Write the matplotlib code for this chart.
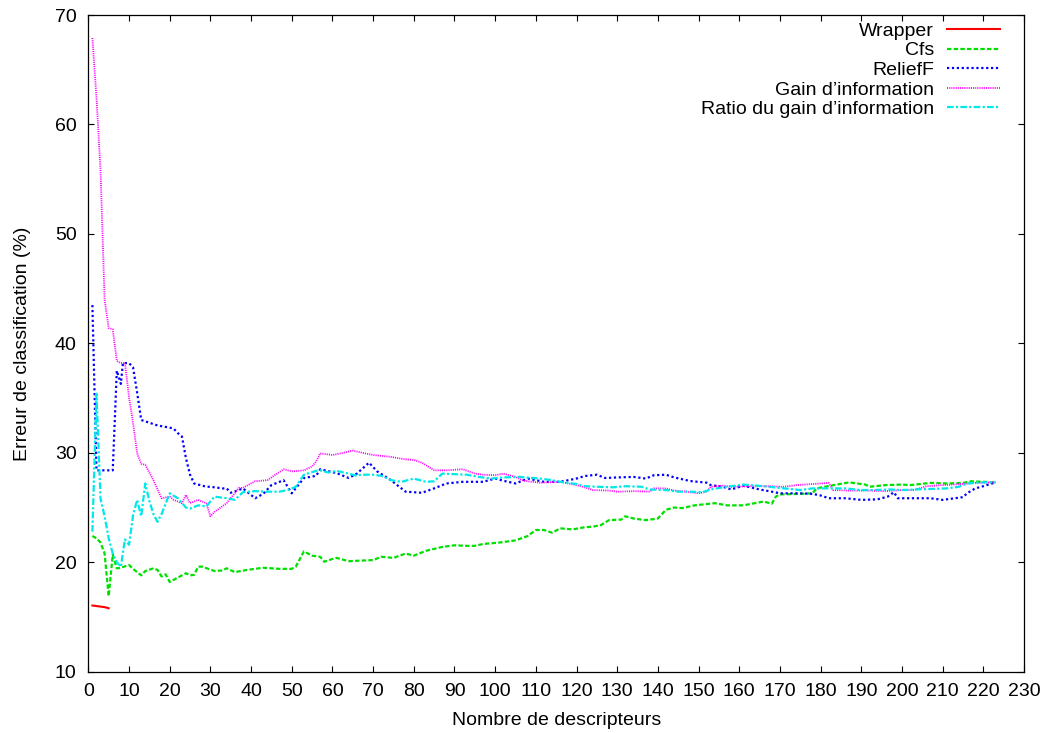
"""Classification error vs number of descriptors (gnuplot-like look)"""
import matplotlib
matplotlib.use("Agg")
import matplotlib.pyplot as plt

plt.rcParams['font.family'] = ['Liberation Sans', 'DejaVu Sans']
plt.rcParams['font.size'] = 14

# Wrapper
wrap_x = [1, 2, 3, 4, 5]
wrap_y = [16.05, 16.0, 15.95, 15.9, 15.8]

# Cfs
cfs_x = [1, 2, 3, 4, 5, 6, 7, 8, 10, 11, 13, 14, 16, 17, 18, 19, 20, 22, 24, 25,
         26, 27, 28, 31, 33, 34, 36, 39, 43, 47, 50, 51, 53, 55, 57, 58, 60, 61,
         64, 70, 72, 75, 78, 80, 83, 87, 90, 93, 95, 97, 101, 105, 108, 110, 112,
         114, 116, 119, 122, 124, 126, 128, 131, 132, 134, 137, 140, 142, 144,
         146, 149, 154, 157, 161, 166, 168, 169, 170, 175, 178, 179, 181, 184,
         187, 191, 192, 196, 200, 202, 207, 211, 215, 217, 223]
cfs_y = [22.4, 22.2, 21.8, 20.8, 16.9, 20.7, 19.45, 19.5, 19.75, 19.4, 18.8, 19.2,
         19.45, 19.3, 18.7, 18.9, 18.2, 18.6, 19.0, 18.8, 18.85, 19.6, 19.6, 19.2,
         19.25, 19.45, 19.1, 19.3, 19.5, 19.4, 19.4, 19.6, 21.0, 20.6, 20.5, 20.05,
         20.3, 20.4, 20.1, 20.2, 20.5, 20.4, 20.8, 20.6, 21.05, 21.4, 21.55, 21.5,
         21.5, 21.67, 21.8, 22.0, 22.4, 22.95, 22.95, 22.7, 23.1, 23.0, 23.2, 23.25,
         23.4, 23.85, 23.9, 24.2, 24.0, 23.85, 24.0, 24.8, 25.0, 24.95, 25.2, 25.4,
         25.2, 25.2, 25.55, 25.35, 26.0, 26.2, 26.25, 26.3, 26.75, 26.9, 27.1, 27.3,
         27.1, 26.9, 27.05, 27.1, 27.05, 27.25, 27.2, 27.25, 27.4, 27.3]

# ReliefF
rel_x = [1, 2, 3, 4, 5, 6, 7, 8, 8.5, 10, 11, 12, 13, 17, 20, 21, 22, 23, 24, 25,
         26, 28, 29, 30, 33, 34, 35, 37, 38, 41, 43, 45, 48, 50, 53, 56, 57, 61,
         64, 66, 69, 71, 74, 78, 82, 85, 88, 92, 97, 100, 102, 105, 108, 112, 116,
         120, 122, 125, 127, 130, 134, 137, 139, 142, 144, 148, 152, 153, 156, 158,
         161, 165, 168, 170, 175, 178, 180, 182, 186, 190, 194, 196.5, 198, 199,
         202, 207, 210, 215, 216, 218, 220, 223]
rel_y = [43.5, 28.4, 28.4, 28.4, 28.4, 28.4, 37.5, 36.3, 38.2, 38.2, 37.8, 35.5,
         33.0, 32.5, 32.3, 32.2, 31.8, 31.5, 29.5, 28.0, 27.2, 27.0, 26.9, 26.9,
         26.75, 26.75, 26.35, 26.6, 26.75, 25.85, 26.25, 27.05, 27.5, 26.3, 27.7,
         27.9, 28.5, 28.15, 27.7, 28.1, 29.1, 28.3, 27.6, 26.45, 26.35, 26.75, 27.2,
         27.35, 27.35, 27.65, 27.45, 27.2, 27.65, 27.35, 27.35, 27.65, 27.88, 28.0,
         27.7, 27.75, 27.8, 27.65, 27.95, 28.0, 27.75, 27.42, 27.27, 27.05, 26.9,
         26.65, 27.0, 26.65, 26.45, 26.3, 26.3, 26.25, 26.1, 25.85, 25.85, 25.7,
         25.75, 26.0, 26.4, 25.85, 25.85, 25.85, 25.7, 25.95, 26.3, 26.75, 26.95,
         27.3]

# Gain d'information
gain_x = [1, 2, 3, 4, 5, 6, 7, 8, 9, 10, 11, 12, 13, 14, 16, 18, 20, 21, 23, 24,
          25, 27, 29, 30, 31, 34, 36, 37, 38, 41, 44, 46, 48, 50, 53, 55, 56, 57,
          60, 62, 65, 68, 70, 74, 78, 80, 82, 85, 88, 92, 95, 97, 100, 102, 105,
          107, 111, 113, 116, 120, 122, 124, 128, 130, 134, 138, 139, 142, 144,
          147, 150, 152, 153, 156, 158, 163, 167, 171, 174, 178, 182, 183, 187,
          192, 196, 200, 203, 206, 210, 215, 218, 223]
gain_y = [67.9, 62.5, 55.8, 44.0, 41.4, 41.3, 38.4, 38.2, 38.2, 35.1, 32.7, 29.95,
          29.0, 28.9, 27.5, 25.85, 26.0, 25.7, 25.4, 26.15, 25.4, 25.7, 25.4, 24.2,
          24.6, 25.4, 26.3, 26.8, 26.8, 27.4, 27.5, 28.0, 28.5, 28.3, 28.4, 28.75,
          29.2, 29.95, 29.8, 29.95, 30.2, 29.95, 29.8, 29.65, 29.4, 29.35, 29.1,
          28.4, 28.4, 28.5, 28.1, 28.0, 27.95, 28.1, 27.8, 27.45, 27.27, 27.3, 27.35,
          27.05, 26.85, 26.6, 26.55, 26.45, 26.5, 26.45, 26.75, 26.75, 26.55, 26.45,
          26.3, 26.45, 26.9, 27.0, 26.9, 26.95, 26.95, 26.9, 27.05, 27.15, 27.25,
          26.6, 26.55, 26.55, 26.5, 26.6, 26.6, 26.95, 27.05, 27.15, 27.25, 27.3]

# Ratio du gain d'information
ratio_x = [1, 2, 3, 4, 5, 6, 7, 8, 9, 10, 11, 12, 13, 14, 15, 16, 17, 18, 20, 22,
           24, 25, 27, 29, 31, 34, 36, 38, 41, 44, 47, 49.5, 51, 53, 56, 57, 59, 61,
           64, 66, 67, 70, 72, 74.5, 77, 80, 83, 85, 87, 90, 93, 96, 99, 102, 106,
           111, 114, 116, 120, 122, 125, 129, 132, 136, 138, 142, 145, 148, 151,
           153, 156, 158, 161, 166, 171, 175, 178, 183, 186, 190, 193, 197, 200,
           203, 207, 211, 214, 216, 220, 223]
ratio_y = [22.8, 35.4, 25.8, 24.2, 22.2, 20.8, 20.0, 19.6, 22.1, 21.6, 24.3, 25.7,
           24.2, 27.2, 25.6, 24.4, 23.7, 24.4, 26.3, 25.85, 25.0, 24.9, 25.2, 25.1,
           26.0, 25.85, 25.7, 26.4, 26.5, 26.45, 26.45, 26.65, 26.9, 28.0, 28.35,
           28.4, 28.2, 28.35, 28.1, 27.9, 28.0, 28.0, 27.9, 27.5, 27.35, 27.65, 27.35,
           27.4, 28.1, 28.05, 28.0, 27.8, 27.65, 27.75, 27.8, 27.65, 27.5, 27.35,
           27.15, 26.95, 26.9, 26.85, 26.95, 26.9, 26.65, 26.6, 26.45, 26.45, 26.4,
           26.65, 26.85, 26.95, 27.1, 26.95, 26.75, 26.6, 26.75, 26.75, 26.75, 26.6,
           26.6, 26.65, 26.6, 26.65, 26.7, 26.75, 26.9, 27.2, 27.3, 27.3]

fig = plt.figure(figsize=(10.49, 7.33), dpi=100)
ax = fig.add_axes([0.0842, 0.0836, 0.8920, 0.8959])

ax.plot(wrap_x, wrap_y, color="#ff0000", lw=1.5, label="Wrapper")
ax.plot(cfs_x, cfs_y, color="#00e000", lw=1.6, ls=(0, (2, 1)), label="Cfs")
ax.plot(rel_x, rel_y, color="#0000ff", lw=1.6, ls=(0, (1, 1.2)), label="ReliefF")
ax.plot(gain_x, gain_y, color="#ff00ff", lw=1.3, ls=(0, (0.6, 0.6)),
        label="Gain d\u2019information")
ax.plot(ratio_x, ratio_y, color="#00e8e8", lw=1.6, ls=(0, (3, 1, 1, 1)),
        label="Ratio du gain d\u2019information")

ax.set_xlim(0, 230)
ax.set_ylim(10, 70)
ax.set_xticks(range(0, 231, 10))
ax.set_yticks(range(10, 71, 10))
ax.tick_params(direction="in", length=4, width=0.8, top=True, right=True,
               labelsize=14)
ax.tick_params(axis="x", pad=8)
ax.tick_params(axis="y", pad=8.5)
for sp in ax.spines.values():
    sp.set_linewidth(0.9)

ax.set_xlabel("Nombre de descripteurs", fontsize=14, labelpad=9)
ax.set_ylabel("Erreur de classification (%)", fontsize=14, labelpad=17)

ax.legend(loc="upper right", bbox_to_anchor=(0.9744, 0.989), frameon=False,
          markerfirst=False, fontsize=14, handlelength=2.73, handletextpad=0.67,
          labelspacing=0.1, borderaxespad=0, borderpad=0)

fig.savefig("out.png", dpi=100)
